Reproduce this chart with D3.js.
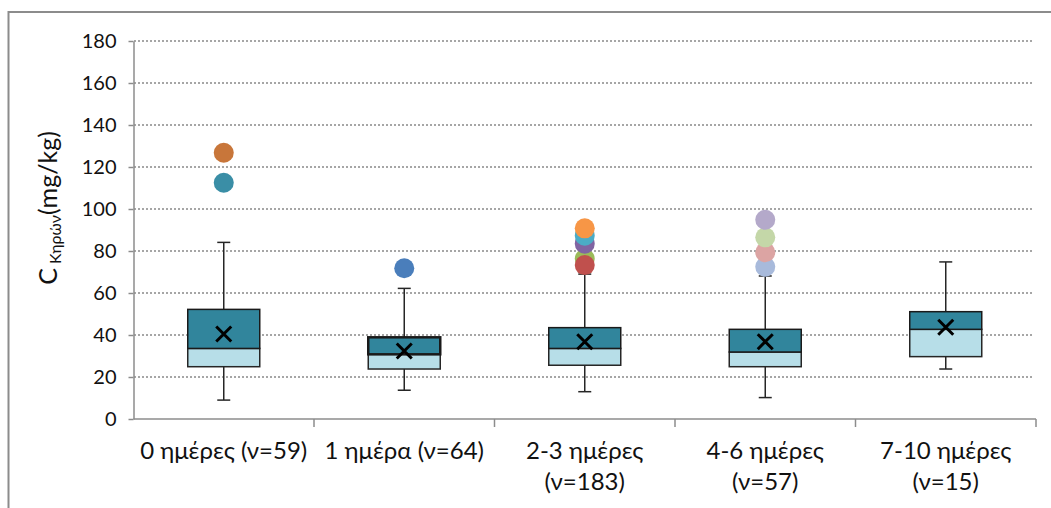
<!DOCTYPE html>
<html>
<head>
<meta charset="utf-8">
<script src="https://cdn.jsdelivr.net/npm/d3@7"></script>
<style>
  html, body { margin: 0; padding: 0; background: #fff; }
  svg { display: block; font-family: Lato, "Open Sans", sans-serif; }
</style>
</head>
<body>
<svg id="chart" width="1051" height="508"></svg>
<script>
// Wax concentration by storage time: box statistics per group
const categories = ["0 ημέρες (ν=59)", "1 ημέρα (ν=64)", "2-3 ημέρες\n(ν=183)", "4-6 ημέρες\n(ν=57)", "7-10 ημέρες\n(ν=15)"];
const whiskerLow  = [9.0, 13.7, 13.0, 10.2, 23.8];
const q1          = [24.9, 23.8, 25.6, 24.9, 29.7];
const median      = [33.6, 30.8, 33.6, 31.9, 42.7];
const q3          = [52.2, 38.9, 43.5, 42.7, 51.1];
const whiskerHigh = [84.1, 62.2, 69.0, 68.1, 74.8];
const means       = [40.5, 32.4, 36.8, 36.8, 43.7];

// Outlying samples: group index, value, marker colour
const outlierGroup = [0, 0, 1, 2, 2, 2, 2, 2, 3, 3, 3, 3];
const outlierValue = [112.5, 126.8, 71.8, 76.3, 73.3, 83.5, 87.3, 90.8, 72.5, 79.4, 86.5, 94.9];
const outlierColor = ["#3a8ea6", "#c8763a", "#4a7ebb", "#9bbb59", "#c0504d", "#8064a2", "#4bacc6", "#f79646",
                      "#a8badb", "#dca4a3", "#c4d7a8", "#b4a9ca"];

const yTicks = [0, 20, 40, 60, 80, 100, 120, 140, 160, 180];

const svg = d3.select("#chart");

// outer chart frame
svg.append("rect")
  .attr("x", 8.5).attr("y", 12).attr("width", 1100).attr("height", 600)
  .attr("fill", "none").attr("stroke", "#8c8c8c").attr("stroke-width", 2);

const x = d3.scaleBand().domain(categories).range([133.5, 1036]).padding(0);
const y = d3.scaleLinear().domain([0, 180]).range([419, 41]);
const boxW = 72;

// horizontal dotted gridlines
svg.append("g").selectAll("line")
  .data(yTicks.filter(d => d > 0))
  .join("line")
  .attr("x1", 134).attr("x2", 1034)
  .attr("y1", d => y(d)).attr("y2", d => y(d))
  .attr("stroke", "#a6a6a6").attr("stroke-width", 2)
  .attr("stroke-dasharray", "2,2");

// y axis
const yAxis = svg.append("g")
  .attr("transform", "translate(133.5,0)")
  .call(d3.axisLeft(y).tickValues(yTicks).tickSize(5).tickPadding(12).tickSizeOuter(0));
yAxis.select(".domain").attr("stroke", "#8c8c8c").attr("stroke-width", 1.5);
yAxis.selectAll(".tick line").attr("stroke", "#8c8c8c").attr("stroke-width", 1.5);
yAxis.selectAll(".tick text")
  .attr("font-family", "Lato, 'Open Sans', sans-serif")
  .attr("font-size", 20).attr("fill", "#111");

// x axis with ticks at group boundaries
const xAxisG = svg.append("g").attr("transform", "translate(0,419)");
xAxisG.append("line")
  .attr("x1", 133.5).attr("x2", 1036).attr("y1", 0).attr("y2", 0)
  .attr("stroke", "#8c8c8c").attr("stroke-width", 1.5);
xAxisG.selectAll("line.bound")
  .data(categories)
  .join("line").attr("class", "bound")
  .attr("x1", d => x(d) + x.bandwidth()).attr("x2", d => x(d) + x.bandwidth())
  .attr("y1", 0).attr("y2", 8)
  .attr("stroke", "#8c8c8c").attr("stroke-width", 1.5);

xAxisG.selectAll("text.cat")
  .data(categories)
  .join("text").attr("class", "cat")
  .attr("text-anchor", "middle")
  .attr("font-size", 24).attr("fill", "#111")
  .each(function(d) {
    const lines = d.split("\n");
    const t = d3.select(this);
    lines.forEach((ln, i) => {
      t.append("tspan")
        .attr("x", x(d) + x.bandwidth() / 2)
        .attr("y", 40 + i * 31)
        .text(ln);
    });
  });

// boxes
const groups = svg.append("g").selectAll("g.box")
  .data(categories.map((c, i) => ({ c, i })))
  .join("g").attr("class", "box");

groups.each(function({ c, i }) {
  const g = d3.select(this);
  const cx = x(c) + x.bandwidth() / 2;
  const sw = i === 1 ? 2.5 : 1.5;
  // whiskers
  g.append("line").attr("x1", cx).attr("x2", cx)
    .attr("y1", y(q3[i])).attr("y2", y(whiskerHigh[i]))
    .attr("stroke", "#262626").attr("stroke-width", 1.5);
  g.append("line").attr("x1", cx).attr("x2", cx)
    .attr("y1", y(q1[i])).attr("y2", y(whiskerLow[i]))
    .attr("stroke", "#262626").attr("stroke-width", 1.5);
  [whiskerHigh[i], whiskerLow[i]].forEach(v => {
    g.append("line").attr("x1", cx - 6.5).attr("x2", cx + 6.5)
      .attr("y1", y(v)).attr("y2", y(v))
      .attr("stroke", "#262626").attr("stroke-width", 1.5);
  });
  // lower part (Q1 to median)
  g.append("rect")
    .attr("x", cx - boxW / 2).attr("width", boxW)
    .attr("y", y(median[i])).attr("height", y(q1[i]) - y(median[i]))
    .attr("fill", "#b7dee8").attr("stroke", "#262626").attr("stroke-width", 1.5);
  // upper part (median to Q3)
  g.append("rect")
    .attr("x", cx - boxW / 2).attr("width", boxW)
    .attr("y", y(q3[i])).attr("height", y(median[i]) - y(q3[i]))
    .attr("fill", "#31859c").attr("stroke", "#1a1a1a").attr("stroke-width", sw);
  // mean marker
  const m = 7.5, my = y(means[i]);
  g.append("path")
    .attr("d", `M${cx - m},${my - m}L${cx + m},${my + m}M${cx - m},${my + m}L${cx + m},${my - m}`)
    .attr("stroke", "#000").attr("stroke-width", 3).attr("fill", "none");
});

// outlier markers
svg.append("g").selectAll("circle")
  .data(outlierValue.map((v, k) => ({ v, g: outlierGroup[k], col: outlierColor[k] })))
  .join("circle")
  .attr("cx", d => x(categories[d.g]) + x.bandwidth() / 2)
  .attr("cy", d => y(d.v))
  .attr("r", 10)
  .attr("fill", d => d.col);

// y axis title with subscript
const title = svg.append("text")
  .attr("transform", "translate(57,208) rotate(-90)")
  .attr("text-anchor", "middle")
  .attr("fill", "#111");
title.append("tspan").attr("font-size", 25).text("C");
title.append("tspan").attr("font-size", 16).attr("dx", 4).attr("dy", 4).text("Κηρών");
title.append("tspan").attr("font-size", 25).attr("dy", -4).text("(mg/kg)");
</script>
</body>
</html>
